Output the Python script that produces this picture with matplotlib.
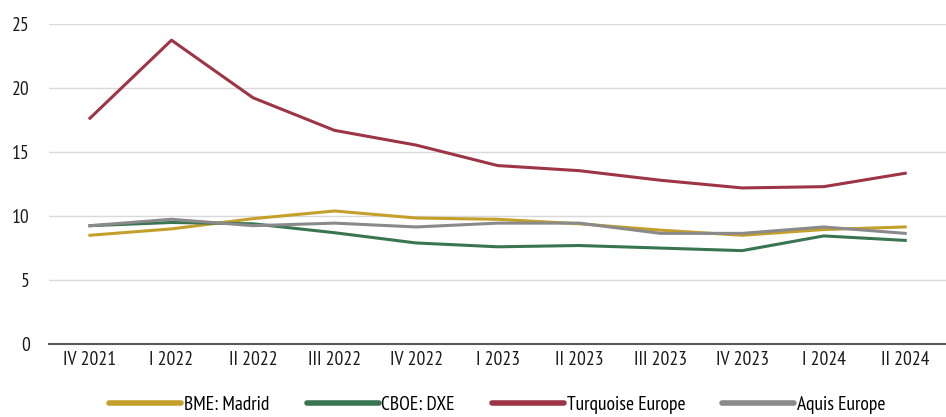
"""Volatilidad por centro de negociación, trimestral."""

import matplotlib
matplotlib.use("Agg")
import matplotlib.pyplot as plt
from matplotlib import font_manager

quarters = ["IV 2021", "I 2022", "II 2022", "III 2022", "IV 2022", "I 2023",
            "II 2023", "III 2023", "IV 2023", "I 2024", "II 2024"]
bme_madrid = [8.5, 9.0, 9.8, 10.4, 9.85, 9.75, 9.4, 8.9, 8.5, 8.95, 9.15]
cboe_dxe = [9.25, 9.5, 9.4, 8.7, 7.9, 7.6, 7.7, 7.5, 7.3, 8.45, 8.1]
turquoise = [17.65, 23.75, 19.25, 16.7, 15.55, 13.95, 13.55, 12.8, 12.2, 12.3, 13.35]
aquis = [9.25, 9.75, 9.25, 9.45, 9.15, 9.45, 9.45, 8.65, 8.65, 9.15, 8.65]

series = [
    ("BME: Madrid", bme_madrid, "#C4A02A"),
    ("CBOE: DXE", cboe_dxe, "#3A7552"),
    ("Turquoise Europe", turquoise, "#9E3546"),
    ("Aquis Europe", aquis, "#8A8A8A"),
]

# fuente condensada parecida a Myriad Condensed
installed = {f.name for f in font_manager.fontManager.ttflist}
candidates = ["PT Sans Narrow", "Roboto Condensed", "Open Sans Condensed",
              "Archivo Narrow", "Asap Condensed", "Barlow Semi Condensed"]
font = next((c for c in candidates if c in installed), "DejaVu Sans")
plt.rcParams["font.family"] = [font, "DejaVu Sans"]

fig = plt.figure(figsize=(9.46, 4.17), dpi=100)
ax = fig.add_axes([0.052, 0.175, 0.948, 0.767])

x = range(len(quarters))
for name, vals, color in series:
    ax.plot(x, vals, color=color, lw=2.2, label=name)

ax.set_xlim(-0.5, len(quarters) - 0.5)
ax.set_ylim(0, 25)
ax.set_yticks([0, 5, 10, 15, 20, 25])
ax.set_xticks(list(x))
ax.set_xticklabels(quarters)
ax.tick_params(axis="both", length=0, labelsize=14, colors="#1a1a1a")
ax.tick_params(axis="x", pad=5)
ax.tick_params(axis="y", pad=14)
ax.grid(axis="y", color="#D9D9D9", lw=1)
ax.set_axisbelow(True)
for side in ["top", "right", "left"]:
    ax.spines[side].set_visible(False)
ax.spines["bottom"].set_color("#595959")
ax.spines["bottom"].set_linewidth(1.5)

leg = fig.legend(loc="lower center", bbox_to_anchor=(0.526, -0.035), ncol=4,
                 frameon=False, fontsize=14, handlelength=3.7, handletextpad=0.15,
                 columnspacing=1.9)
for line in leg.get_lines():
    line.set_linewidth(4)
    line.set_solid_capstyle("round")

fig.savefig("out.png", dpi=100)
